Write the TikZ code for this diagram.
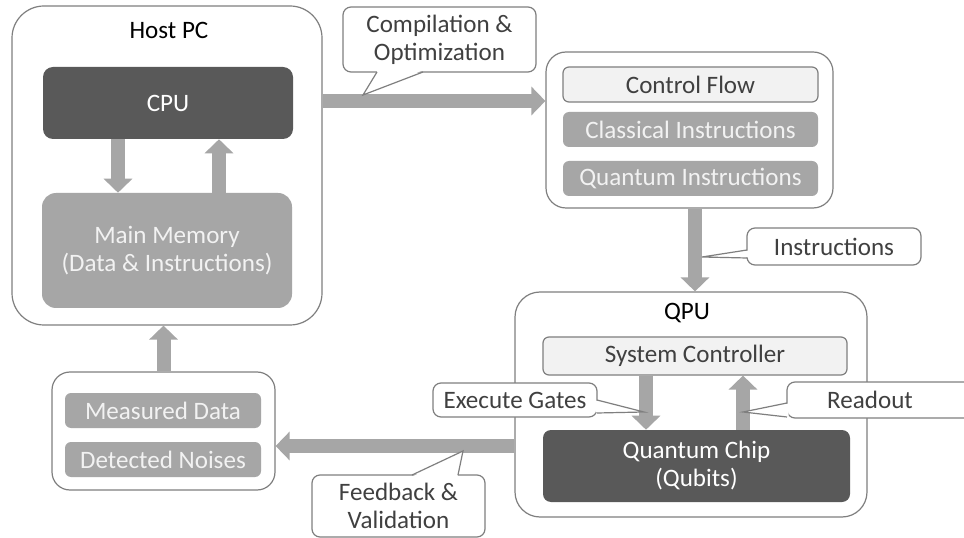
\documentclass[tikz,border=0pt]{standalone}
\usepackage{fontspec}
\setmainfont{Carlito}
\usetikzlibrary{arrows.meta,calc}
\definecolor{edgegray}{HTML}{7F7F7F}
\definecolor{arrowgray}{HTML}{A6A6A6}
\definecolor{darkfill}{HTML}{595959}
\definecolor{midfill}{HTML}{A6A6A6}
\definecolor{lightfill}{HTML}{F2F2F2}
\definecolor{txtdark}{HTML}{404040}
\begin{document}
\begin{tikzpicture}[x=0.75pt,y=-0.75pt,
  font=\fontsize{18.8pt}{21pt}\selectfont,
  container/.style={draw=edgegray, line width=0.9pt, fill=white, rounded corners=#1, inner sep=0pt},
  darkbox/.style={fill=darkfill, text=white, rounded corners=#1, align=center, inner sep=0pt},
  midbox/.style={fill=midfill, text=lightfill, rounded corners=#1, align=center, inner sep=0pt},
  lightbox/.style={draw=edgegray, line width=0.9pt, fill=lightfill, text=txtdark, rounded corners=#1, align=center, inner sep=0pt},
  callout/.style={draw=edgegray, line width=0.9pt, fill=white, text=txtdark, rounded corners=6pt, align=center, inner sep=0pt},
  pointer/.style={draw=edgegray, line width=0.9pt},
  fat/.style={draw=arrowgray, line width=10.5pt, -{Triangle[width=21pt,length=10.5pt]}},
]
\useasboundingbox (0,0) rectangle (964,538);

% Host PC
\node[container=24pt, minimum width=232.5pt, minimum height=239.25pt] (host) at (167,165.5) {};
\node (hostlabel) at (169,30) {Host PC};
\node[darkbox=7.5pt, minimum width=187.5pt, minimum height=54pt] (cpu) at (168,103) {CPU};
\node[midbox=10.5pt, minimum width=187.5pt, minimum height=86.25pt] (mem) at (167,250.5) {Main Memory\\(Data \& Instructions)};

% Program box
\node[container=15pt, minimum width=215.25pt, minimum height=117pt] (prog) at (689.5,130) {};
\node[lightbox=4.5pt, minimum width=191.25pt, minimum height=26.25pt] (cf) at (690.5,84.5) {Control Flow};
\node[midbox=4.5pt, minimum width=191.25pt, minimum height=26.25pt] (ci) at (690.5,129.5) {Classical Instructions};
\node[midbox=4.5pt, minimum width=191.25pt, minimum height=26.25pt] (qi) at (690.5,178.5) {Quantum Instructions};

% QPU
\node[container=18.75pt, minimum width=264pt, minimum height=168.75pt] (qpu) at (691,404.5) {};
\node (qpulabel) at (687,313) {QPU};
\node[lightbox=4.5pt, minimum width=228pt, minimum height=28.5pt] (sc) at (695,356) {System Controller};
\node[darkbox=6pt, minimum width=230.25pt, minimum height=54pt] (qc) at (696.5,466) {Quantum Chip\\(Qubits)};

% Data box
\node[container=13.5pt, minimum width=167.25pt, minimum height=88.5pt] (data) at (163.5,431) {};
\node[midbox=4.5pt, minimum width=147pt, minimum height=26.25pt] (md) at (163,410.5) {Measured Data};
\node[midbox=4.5pt, minimum width=147pt, minimum height=26.25pt] (dn) at (163,459.5) {Detected Noises};

% Arrows
\draw[fat] ([xshift=-37.5pt]cpu.south) -- ([xshift=-37.5pt]cpu.south |- mem.north);
\draw[fat] ([xshift=38.25pt]cpu.south |- mem.north) -- ([xshift=38.25pt]cpu.south);
\draw[fat] ([yshift=1.5pt]cpu.east -| host.east) -- ([yshift=1.5pt]cpu.east -| prog.west);
\draw[fat] ([xshift=4.125pt]prog.south) -- ([xshift=4.125pt]prog.south |- qpu.north);
\draw[fat] ([xshift=-36.75pt]sc.south) -- ([xshift=-36.75pt]sc.south |- qc.north);
\draw[fat] ([xshift=36pt]sc.south |- qc.north) -- ([xshift=36pt]sc.south);
\draw[fat] ([yshift=-31.125pt]qpu.west) -- ([yshift=-31.125pt]qpu.west -| data.east);
\draw[fat] (data.north) -- (data.north |- host.south);

% Callouts
\node[callout, minimum width=144.75pt, minimum height=48.75pt] (comp) at (439.5,39.5) {Compilation \&\\Optimization};
\coordinate (comptip) at (363,95);
\fill[white] (377.5,70.5) -- (comptip) -- (422.5,70.5) -- cycle;
\draw[pointer] (377,72) -- (comptip) -- (423,72);

\node[callout, minimum width=130.5pt, minimum height=27.75pt] (instr) at (834,246.5) {Instructions};
\coordinate (instrtip) at (702,257);
\fill[white] (748.5,250.5) -- (instrtip) -- (748.5,257.5) -- cycle;
\draw[pointer] (747,250) -- (instrtip) -- (747,258);

\node[callout, minimum width=123pt, minimum height=25.5pt] (exec) at (515,400) {Execute Gates};
\coordinate (exectip) at (644,412);
\fill[white] (595.5,400.5) -- (exectip) -- (595.5,412.5) -- cycle;
\draw[pointer] (597,400) -- (exectip) -- (597,413);

\node[callout, minimum width=141pt, minimum height=27pt] (readout) at (881,400) {};
\node[text=txtdark] (readtext) at (870,400) {Readout};
\coordinate (readtip) at (743,412);
\fill[white] (788.5,403.5) -- (readtip) -- (788.5,416.5) -- cycle;
\draw[pointer] (787,403) -- (readtip) -- (787,417);

\node[callout, minimum width=129.75pt, minimum height=46.5pt] (fb) at (398.5,506) {Feedback \&\\Validation};
\coordinate (fbtip) at (463,451);
\fill[white] (412.5,476.5) -- (fbtip) -- (457.5,476.5) -- cycle;
\draw[pointer] (412,475) -- (fbtip) -- (458,475);
\end{tikzpicture}
\end{document}
